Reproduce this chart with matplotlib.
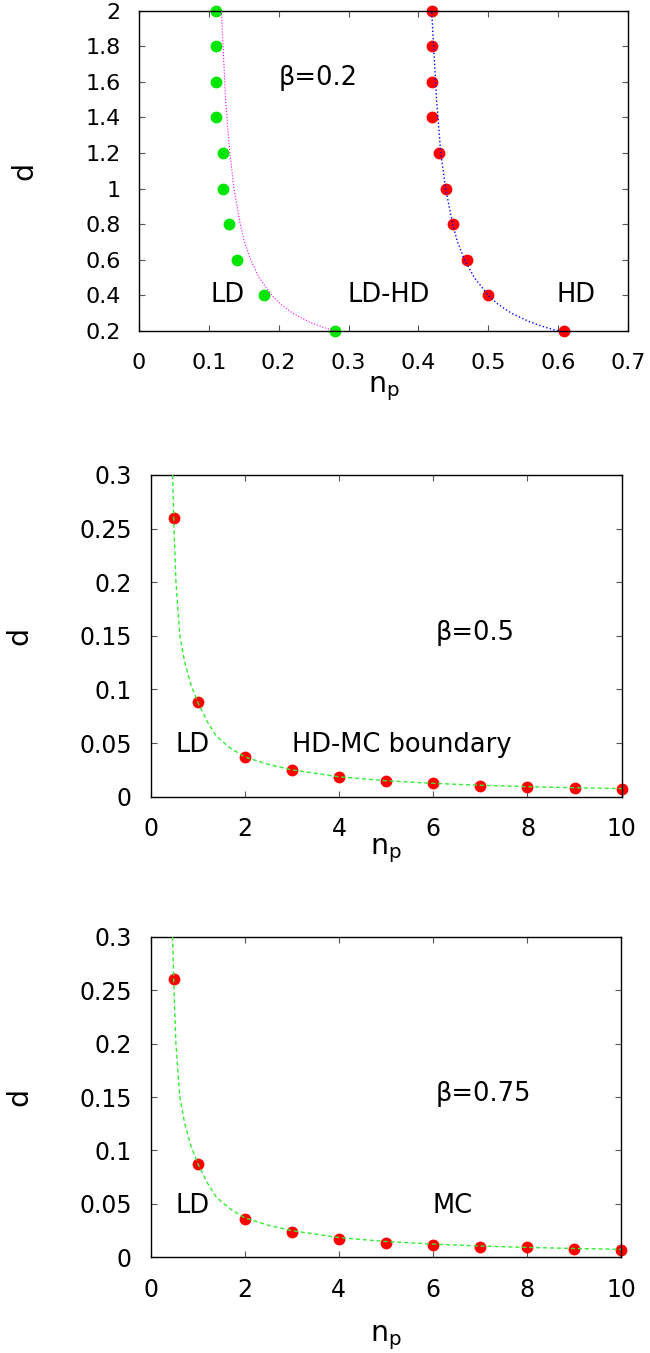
import matplotlib
matplotlib.use("Agg")
import matplotlib.pyplot as plt
from matplotlib.ticker import FuncFormatter

plt.rcParams['font.family'] = ['DejaVu Sans']

# ---- top panel (beta = 0.2) ----
d_top = [0.2, 0.4, 0.6, 0.8, 1.0, 1.2, 1.4, 1.6, 1.8, 2.0]
np_ld = [0.28, 0.179, 0.14, 0.129, 0.12, 0.12, 0.11, 0.11, 0.11, 0.11]
np_hd = [0.608, 0.499, 0.469, 0.449, 0.439, 0.429, 0.419, 0.419, 0.419, 0.419]

# fitted boundaries
fit_d_top = [0.2, 0.22, 0.25, 0.3, 0.35, 0.4, 0.5, 0.6, 0.7, 0.8, 1.0, 1.2, 1.5, 2.0]
fit_np_ld = [0.28, 0.264, 0.244, 0.22, 0.203, 0.19, 0.172, 0.16, 0.151, 0.145, 0.136, 0.13, 0.124, 0.118]
fit_np_hd = [0.6, 0.582, 0.56, 0.533, 0.514, 0.5, 0.48, 0.466, 0.456, 0.449, 0.439, 0.432, 0.426, 0.419]

# ---- middle / bottom panels (beta = 0.5, 0.75) ----
np_pts = [0.5, 1, 2, 3, 4, 5, 6, 7, 8, 9, 10]
d_b05 = [0.26, 0.088, 0.037, 0.0246, 0.0184, 0.0146, 0.0125, 0.010, 0.0093, 0.0084, 0.0075]
d_b075 = [0.26, 0.0876, 0.0358, 0.024, 0.0174, 0.0134, 0.0118, 0.0099, 0.0093, 0.0081, 0.0071]

fit_np = [0.467, 0.495, 0.537, 0.62, 0.72, 0.85, 1.0, 1.2, 1.4, 1.7, 2.0, 2.5, 3, 4, 5, 6, 7, 8, 9, 10]
fit_d = [0.3, 0.25, 0.2, 0.15, 0.126, 0.105, 0.088, 0.07, 0.056, 0.045, 0.037, 0.030, 0.025,
         0.0185, 0.0148, 0.0124, 0.0106, 0.0093, 0.0083, 0.0075]

LABEL_FS = 20.5
TEXT_FS = 18.5
MS = 8.5

fmt = FuncFormatter(lambda v, p: '%g' % round(v, 3))


def style_axes(ax, fs, xpad, ypad):
    ax.tick_params(direction='in', length=4, width=0.8, top=True, right=True,
                   labelsize=fs, color='#555555')
    ax.tick_params(axis='x', pad=xpad)
    ax.tick_params(axis='y', pad=ypad)
    ax.xaxis.set_major_formatter(fmt)
    ax.yaxis.set_major_formatter(fmt)
    for s in ax.spines.values():
        s.set_linewidth(1.0)


fig = plt.figure(figsize=(6.5, 13.53), dpi=100)

# top
ax1 = fig.add_axes([0.2138, 0.7554, 0.7523, 0.2367])
ax1.plot(np_ld, d_top, 'o', color='#00e600', ms=MS, mec='none', zorder=2, clip_on=False)
ax1.plot(np_hd, d_top, 'o', color='#ff0000', ms=MS, mec='none', zorder=2, clip_on=False)
ax1.plot(fit_np_ld, fit_d_top, ':', color='#ff00ff', lw=0.8, zorder=3)
ax1.plot(fit_np_hd, fit_d_top, ':', color='#0000ff', lw=1.0, zorder=3)
ax1.set_xlim(0, 0.7)
ax1.set_ylim(0.2, 2.0)
ax1.set_xticks([0, 0.1, 0.2, 0.3, 0.4, 0.5, 0.6, 0.7])
ax1.set_yticks([0.2, 0.4, 0.6, 0.8, 1.0, 1.2, 1.4, 1.6, 1.8, 2.0])
style_axes(ax1, 16, 16, 13)
ax1.set_xlabel(r'n$_\mathregular{p}$', fontsize=LABEL_FS)
ax1.set_ylabel('d', fontsize=LABEL_FS)
ax1.yaxis.set_label_coords(-0.206, 0.5)
ax1.xaxis.set_label_coords(0.5, -0.135)
ax1.text(0.2, 1.62, 'β=0.2', fontsize=TEXT_FS, va='center')
ax1.text(0.102, 0.4, 'LD', fontsize=TEXT_FS, va='center')
ax1.text(0.299, 0.4, 'LD-HD', fontsize=TEXT_FS, va='center')
ax1.text(0.598, 0.4, 'HD', fontsize=TEXT_FS, va='center')

# middle and bottom
panels = [
    ([0.2318, 0.4112, 0.7246, 0.2378], d_b05, 'β=0.5', 'HD-MC boundary', 3.0, 15, -0.125),
    ([0.2318, 0.0707, 0.7235, 0.2370], d_b075, 'β=0.75', 'MC', 6.0, 15, -0.205),
]
for rect, dvals, beta_txt, region_txt, region_x, xpad, xlab_y in panels:
    ax = fig.add_axes(rect)
    ax.plot(np_pts, dvals, 'o', color='#ff0000', ms=MS, mec='none', zorder=2, clip_on=False)
    ax.plot(fit_np, fit_d, '--', color='#33ee33', lw=1.0, dashes=(3, 2), zorder=3)
    ax.set_xlim(0, 10)
    ax.set_ylim(0, 0.3)
    ax.set_xticks([0, 2, 4, 6, 8, 10])
    ax.set_yticks([0, 0.05, 0.1, 0.15, 0.2, 0.25, 0.3])
    style_axes(ax, 17, xpad, 13.5)
    ax.set_xlabel(r'n$_\mathregular{p}$', fontsize=LABEL_FS)
    ax.set_ylabel('d', fontsize=LABEL_FS)
    ax.yaxis.set_label_coords(-0.25, 0.5)
    ax.xaxis.set_label_coords(0.5, xlab_y)
    ax.text(6.05, 0.153, beta_txt, fontsize=TEXT_FS, va='center')
    ax.text(0.52, 0.048, 'LD', fontsize=TEXT_FS, va='center')
    ax.text(region_x, 0.048, region_txt, fontsize=TEXT_FS, va='center')

fig.savefig('out.png', dpi=100)
